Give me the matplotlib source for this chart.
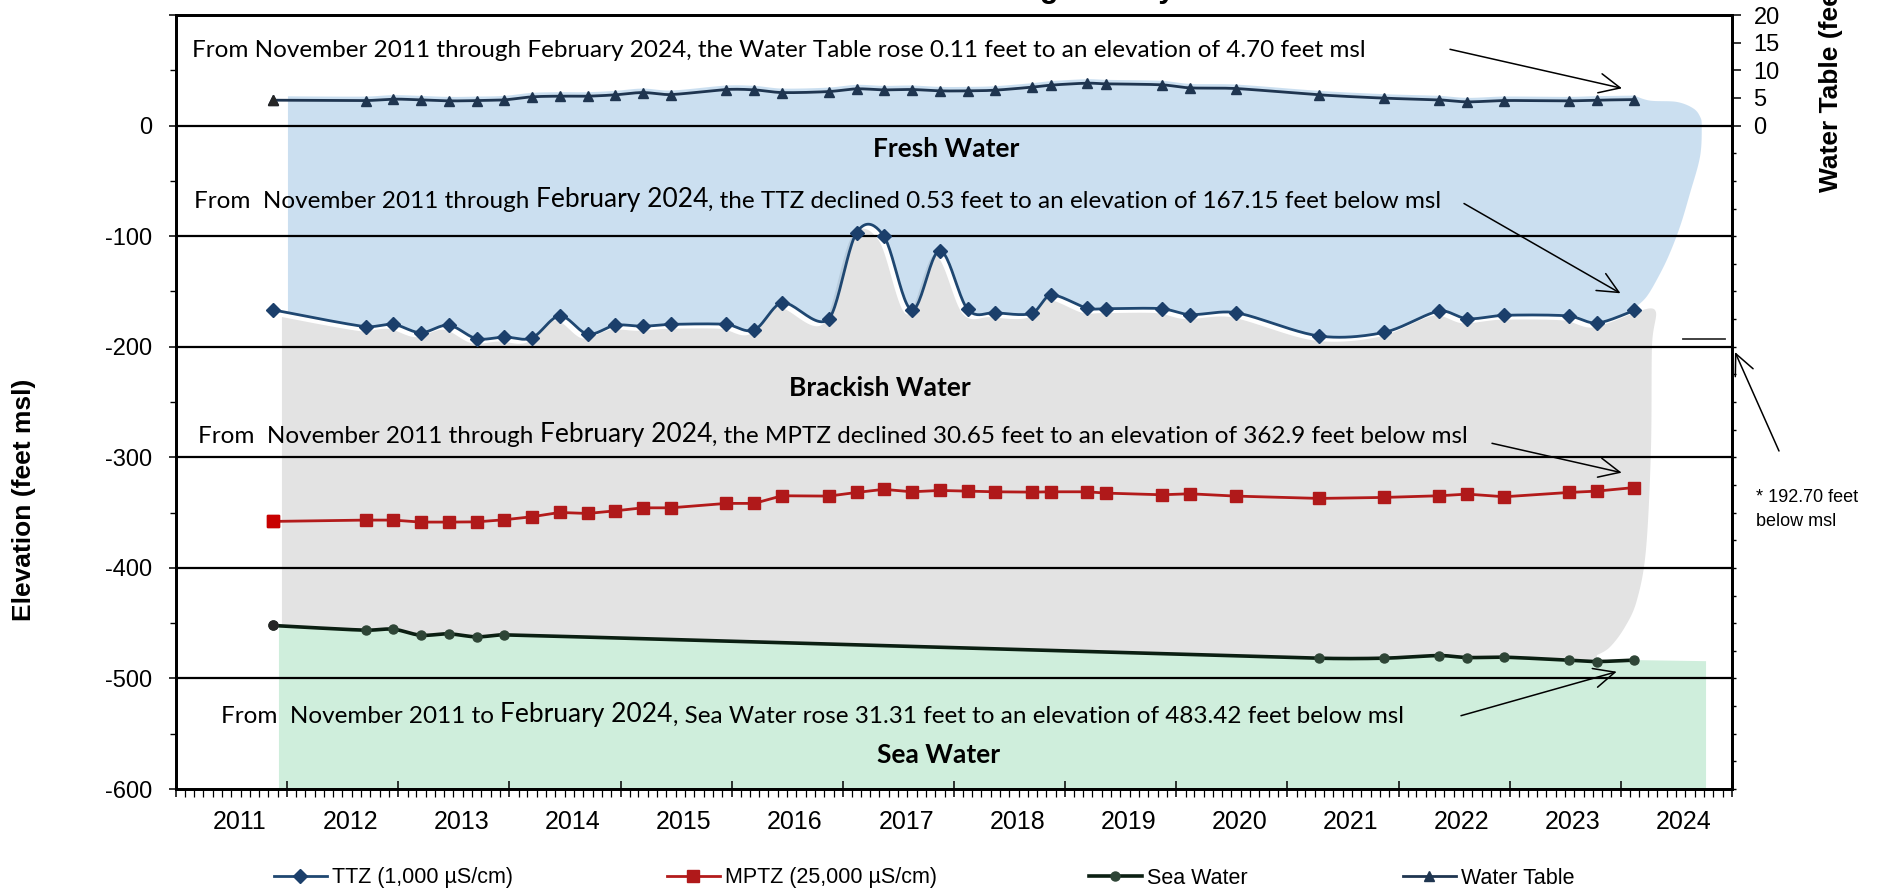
import datetime as dt

import numpy as np
import matplotlib
matplotlib.use("Agg")
import matplotlib.pyplot as plt
import matplotlib.dates as mdates
import matplotlib.transforms as mtransforms
from matplotlib.lines import Line2D
from matplotlib.patches import Polygon
from matplotlib.ticker import FixedLocator, FuncFormatter, NullFormatter

W, H = 1900, 893

# sampling rounds (mid-month)
sample_months = ["2011-11", "2012-09", "2012-12", "2013-03", "2013-06", "2013-09", "2013-12",
                 "2014-03", "2014-06", "2014-09", "2014-12", "2015-03", "2015-06", "2015-12",
                 "2016-03", "2016-06", "2016-11", "2017-02", "2017-05", "2017-08", "2017-11",
                 "2018-02", "2018-05", "2018-09", "2018-11", "2019-03", "2019-05", "2019-11",
                 "2020-02", "2020-07", "2021-04", "2021-11", "2022-05", "2022-08", "2022-12",
                 "2023-07", "2023-10", "2024-02"]

# elevations, feet msl
ttz_elev = [-166.62, -181.9, -179.8, -187.3, -180.6, -192.70, -191.2, -192.1, -172.2, -188.5,
            -180.6, -181.5, -179.8, -179.8, -184.9, -160.2, -175.0, -96.8, -99.8, -166.8,
            -113.1, -166.2, -169.2, -169.8, -153.2, -165.3, -165.6, -165.6, -171.0, -169.2,
            -190.3, -187.0, -167.7, -174.7, -171.6, -172.2, -178.6, -167.15]
mptz_elev = [-358.0, -356.8, -356.8, -358.6, -358.6, -358.4, -356.5, -353.8, -349.9, -350.8,
             -348.4, -345.7, -345.7, -341.7, -341.7, -334.8, -335.1, -331.8, -329.0, -331.2,
             -330.0, -330.6, -331.2, -331.5, -331.2, -331.2, -332.4, -333.9, -333.0, -335.1,
             -337.2, -336.3, -334.8, -333.3, -335.7, -331.8, -330.6, -327.35]
nan = float("nan")
sea_elev = [-452.11, -456.4, -455.5, -460.9, -459.7, -462.4, -460.6] + [nan] * 23 + \
           [-481.7, -481.7, -479.3, -481.1, -480.8, -483.5, -484.7, -483.42]
water_table = [4.59, 4.52, 4.78, 4.65, 4.47, 4.52, 4.65, 5.19, 5.32, 5.32, 5.56, 5.97, 5.61,
               6.52, 6.46, 5.97, 6.15, 6.64, 6.46, 6.52, 6.28, 6.28, 6.40, 6.95, 7.31, 7.67,
               7.55, 7.37, 6.82, 6.70, 5.56, 4.96, 4.65, 4.29, 4.53, 4.47, 4.60, 4.70]

years = list(range(2011, 2025))

# outline of the shaded zones past the last sampling round (decimal year, feet)
fresh_edge_year = [2024.263, 2024.503, 2024.650, 2024.713, 2024.728, 2024.713, 2024.623,
                   2024.533, 2024.428, 2024.324, 2024.233, 2024.143]
fresh_edge_elev = [22.6, 21.4, 15.7, 8.1, -0.9, -28.1, -61.2, -91.4, -118.6, -139.6, -154.8, -163.8]
brackish_edge_year = [2024.308, 2024.281, 2024.272, 2024.227, 2024.146, 2024.038, 2023.903, 2023.786]
brackish_edge_elev = [-166.8, -200.3, -293.5, -384.0, -429.2, -453.6, -471.7, -479.0]
sea_edge_year = [2024.767]
sea_edge_elev = [-484.4]
fresh_start, brackish_start, sea_start = 2012.008, 2011.954, 2011.927

ARIAL = ["Liberation Sans", "DejaVu Sans"]
CALIBRI = ["Lato", "DejaVu Sans"]
plt.rcParams["font.family"] = ARIAL

FRESH = "#5598D0"
BRACKISH = "#E3E3E3"
SEAFILL = "#CFEEDC"
TTZ_C = "#1F4771"
MPTZ_C = "#B31B1B"
SEA_C = "#0B1F12"
SEA_M = "#2E4536"
WT_C = "#1F3550"


def yr2num(y):
    base = int(np.floor(y))
    a = mdates.date2num(dt.datetime(base, 1, 1))
    b = mdates.date2num(dt.datetime(base + 1, 1, 1))
    return a + (y - base) * (b - a)


def bezier_path(pts, n=24, clamp=True):
    # Excel-like smoothed line: cubic bezier through every point
    pts = np.asarray(pts, float)
    ext = np.vstack([pts[0], pts, pts[-1]])
    out = [pts[:1]]
    t = np.linspace(0, 1, n)[1:, None]
    for i in range(len(pts) - 1):
        p0, p1, p2, p3 = ext[i:i + 4]
        m1 = (p2 - p0) / 6
        m2 = (p3 - p1) / 6
        if clamp:
            lim = abs(p2[0] - p1[0]) / 3
            if abs(m1[0]) > lim:
                m1 = m1 * lim / abs(m1[0])
            if abs(m2[0]) > lim:
                m2 = m2 * lim / abs(m2[0])
        c1, c2 = p1 + m1, p2 - m2
        seg = (1 - t) ** 3 * p1 + 3 * (1 - t) ** 2 * t * c1 + 3 * (1 - t) * t ** 2 * c2 + t ** 3 * p2
        out.append(seg)
    return np.vstack(out)


def clip_x(c, lo=None, hi=None):
    keep = np.ones(len(c), bool)
    pieces = []
    if lo is not None:
        keep &= c[:, 0] >= lo
        pieces.append(np.array([[lo, np.interp(lo, c[:, 0], c[:, 1])]]))
    body = c[keep] if hi is None else c[keep & (c[:, 0] <= hi)]
    if hi is not None:
        body = np.vstack([body, [[hi, np.interp(hi, c[:, 0], c[:, 1])]]])
    return np.vstack(pieces + [body])


dates = [dt.datetime.strptime(m + "-15", "%Y-%m-%d") for m in sample_months]
x = mdates.date2num(dates)
ttz = np.array(ttz_elev)
mptz = np.array(mptz_elev)
sea = np.array(sea_elev)
wt = np.array(water_table)
sea_ok = ~np.isnan(sea)

fig = plt.figure(figsize=(W / 100, H / 100), dpi=100)
ax = fig.add_axes([176 / W, 1 - 789 / H, (1732 - 176) / W, (789 - 15) / H])
ax.set_xlim(yr2num(2011), yr2num(2025))
ax.set_ylim(-600, 100)
ax.xaxis_date()
ax2 = ax.twinx()
ax2.set_ylim(-120, 20)

to_px = ax.transData.transform
to_px2 = ax2.transData.transform
from_px = ax.transData.inverted().transform

ttz_px = bezier_path(to_px(np.column_stack([x, ttz])))
wt_px = bezier_path(to_px2(np.column_stack([x, wt])))
sea_px = bezier_path(to_px(np.column_stack([x[sea_ok], sea[sea_ok]])))


def edge_px(yrs, elev):
    return to_px(np.column_stack([[yr2num(v) for v in yrs], elev]))


# brackish zone: under the TTZ, offset a little, down to the sea water line
left = to_px([[yr2num(brackish_start), 0]])[0, 0]
top = clip_x(ttz_px + [-5, -4.5], lo=left)
edge = bezier_path(np.vstack([top[-1:], edge_px(brackish_edge_year, brackish_edge_elev)]), clamp=False)
bottom = clip_x(sea_px, lo=left, hi=edge[-1, 0])[::-1]
ax.add_patch(Polygon(from_px(np.vstack([top, edge, bottom])), closed=True,
                     facecolor=BRACKISH, edgecolor="none", zorder=1))

# sea water zone
left = to_px([[yr2num(sea_start), 0]])[0, 0]
top = clip_x(sea_px, lo=left)
right = edge_px(sea_edge_year, sea_edge_elev)
low = to_px([[yr2num(sea_edge_year[-1]), -600], [yr2num(sea_start), -600]])
ax.add_patch(Polygon(from_px(np.vstack([top, right, low])), closed=True,
                     facecolor=SEAFILL, edgecolor="none", zorder=1.2))

# fresh water zone: from the water table down to the TTZ
left = to_px([[yr2num(fresh_start), 0]])[0, 0]
top = clip_x(wt_px + [0, 4], lo=left)
edge = bezier_path(np.vstack([top[-1:], edge_px(fresh_edge_year, fresh_edge_elev), ttz_px[-1:]]),
                   clamp=False)
bottom = clip_x(ttz_px, lo=left)[::-1]
ax.add_patch(Polygon(from_px(np.vstack([top, edge, bottom])), closed=True,
                     facecolor=FRESH, alpha=0.3, edgecolor="none", zorder=1.5))

for v in range(-500, 1, 100):
    ax.axhline(v, color="black", lw=1.6, zorder=2)

# series
c = from_px(ttz_px)
ax.plot(c[:, 0], c[:, 1], color=TTZ_C, lw=2.0, zorder=5, solid_capstyle="round")
ax.plot(x, ttz, ls="none", marker="D", ms=7, color="#1B3F6B", zorder=6)

ax.plot(x, mptz, color=MPTZ_C, lw=2.0, zorder=5)
ax.plot(x, mptz, ls="none", marker="s", ms=8.5, color="#B0191A", zorder=6)
ax.plot(x[:1], mptz[:1], ls="none", marker="s", ms=8.5, color="#C80000", zorder=6)

c = from_px(sea_px)
ax.plot(c[:, 0], c[:, 1], color=SEA_C, lw=2.6, zorder=5)
ax.plot(x, sea, ls="none", marker="o", ms=6.5, color=SEA_M, zorder=6)
ax.plot(x[:1], sea[:1], ls="none", marker="o", ms=6.5, color="#262626", zorder=6)

c = ax2.transData.inverted().transform(wt_px)
ax2.plot(c[:, 0], c[:, 1], color=WT_C, lw=2.0, zorder=5)
ax2.plot(x, wt, ls="none", marker="^", ms=7, color=WT_C, zorder=6)
ax2.plot(x[:1], wt[:1], ls="none", marker="^", ms=7, color="#262626", zorder=6)

ax.plot([yr2num(2024.56), yr2num(2024.938)], [-192.70, -192.70], color="#333333", lw=1.3, zorder=5)

# axes styling
for s in ax.spines.values():
    s.set_linewidth(2.0)
for s in ax2.spines.values():
    s.set_linewidth(2.0)

ax.xaxis.set_major_locator(mdates.YearLocator())
ax.xaxis.set_minor_locator(mdates.MonthLocator())
ax.xaxis.set_major_formatter(NullFormatter())
ax.xaxis.set_minor_formatter(NullFormatter())
ax.tick_params(axis="x", which="major", direction="inout", length=11, width=1.1)
ax.tick_params(axis="x", which="minor", direction="out", length=5.5, width=0.9)

ax.yaxis.set_major_locator(FixedLocator(list(range(-600, 101, 100))))
ax.yaxis.set_minor_locator(FixedLocator(list(range(-550, 100, 100))))
ax.yaxis.set_major_formatter(FuncFormatter(lambda v, p: "" if v > 0 else "%d" % v))
ax.tick_params(axis="y", which="major", direction="out", length=5, width=1.1, labelsize=17, pad=12)
ax.tick_params(axis="y", which="minor", direction="out", length=4, width=1.0)

ax2.yaxis.set_major_locator(FixedLocator([0, 5, 10, 15, 20]))
ax2.yaxis.set_minor_locator(FixedLocator(list(range(-120, 0, 5))))
ax2.yaxis.set_major_formatter(FuncFormatter(lambda v, p: "%d" % v))
ax2.tick_params(axis="y", which="major", direction="out", length=6.5, width=1.1, labelsize=17, pad=9)
ax2.tick_params(axis="y", which="minor", direction="out", length=3, width=1.0)

blend = mtransforms.blended_transform_factory(ax.transData, ax.transAxes)
for y in years:
    ax.text(yr2num(y + 0.57), -0.0422, str(y), transform=blend, ha="center", va="center",
            fontsize=18)

fig.text(24 / W, 1 - 500 / H, "Elevation (feet msl)", rotation=90, ha="center", va="center",
         fontsize=19, fontweight="bold")
fig.text(1831 / W, 1 - 56 / H, "Water Table (feet msl)", rotation=90, ha="center", va="center",
         fontsize=19, fontweight="bold")
fig.text(901 / W, 1 + 2.5 / H, "Monitoring Salinity", ha="left", va="baseline",
         fontsize=22, fontweight="bold")


def note(x0, y0, pieces):
    prev = None
    for txt, size in pieces:
        if prev is None:
            prev = ax.annotate(txt, xy=(x0, H - y0), xycoords="figure pixels", ha="left",
                               va="baseline", fontsize=size, family=CALIBRI, zorder=7)
        else:
            prev = ax.annotate(txt, xy=(1, 0), xycoords=prev, ha="left", va="bottom",
                               fontsize=size, family=CALIBRI, zorder=7)


BASE, BIG = 17.5, 19
note(192, 56.7, [("From November 2011 through February 2024, the Water Table rose 0.11 feet "
                  "to an elevation of 4.70 feet msl", BASE)])
note(194, 208.3, [("From  November 2011 through ", BASE), ("February 2024", BIG),
                  (", the TTZ declined 0.53 feet to an elevation of 167.15 feet below msl", BASE)])
note(198, 443, [("From  November 2011 through ", BASE), ("February 2024", BIG),
                (", the MPTZ declined 30.65 feet to an elevation of 362.9 feet below msl", BASE)])
note(221, 722.7, [("From  November 2011 to ", BASE), ("February 2024", BIG),
                  (", Sea Water rose 31.31 feet to an elevation of 483.42 feet below msl", BASE)])

for txt, cx, cy in [("Fresh Water", 946, 149), ("Brackish Water", 880, 388), ("Sea Water", 939, 755)]:
    fig.text(cx / W, 1 - cy / H, txt, ha="center", va="center", fontsize=19,
             fontweight="bold", family=CALIBRI)

fig.text(1756 / W, 1 - 497 / H, "* 192.70 feet", ha="left", va="center", fontsize=13)
fig.text(1756 / W, 1 - 521 / H, "below msl", ha="left", va="center", fontsize=13)

arrow = dict(arrowstyle="->,head_length=0.75,head_width=0.35", color="black", lw=1.1,
             mutation_scale=20, shrinkA=0, shrinkB=0)
for (sx, sy), (ex, ey) in [((1450, 49.3), (1622, 88.3)), ((1464, 203.5), (1620.5, 293.3)),
                           ((1492, 443.3), (1621.7, 472.7)), ((1461, 715.7), (1616.7, 671.7)),
                           ((1779, 451), (1735, 352))]:
    ax.annotate("", xy=(ex, H - ey), xycoords="figure pixels", xytext=(sx, H - sy),
                textcoords="figure pixels", arrowprops=arrow, annotation_clip=False)

# legend, one entry per slot
handles = [
    (Line2D([], [], color=TTZ_C, lw=2, marker="D", ms=7, mfc="#1B3F6B", mec="#1B3F6B"),
     "TTZ (1,000 µS/cm)", 274),
    (Line2D([], [], color=MPTZ_C, lw=2, marker="s", ms=8.5, mfc="#B0191A", mec="#B0191A"),
     "MPTZ (25,000 µS/cm)", 667),
    (Line2D([], [], color=SEA_C, lw=2.6, marker="o", ms=6.5, mfc=SEA_M, mec=SEA_M),
     "Sea Water", 1089),
    (Line2D([], [], color=WT_C, lw=2, marker="^", ms=7, mfc=WT_C, mec=WT_C),
     "Water Table", 1403),
]
for h, label, lx in handles:
    fig.legend(handles=[h], labels=[label], loc="center left", bbox_to_anchor=(lx / W, 1 - 878 / H),
               frameon=False, handlelength=2.45, handletextpad=0.23, borderpad=0,
               borderaxespad=0, prop={"family": ARIAL, "size": 15.5})

fig.savefig("out.png", dpi=100)
